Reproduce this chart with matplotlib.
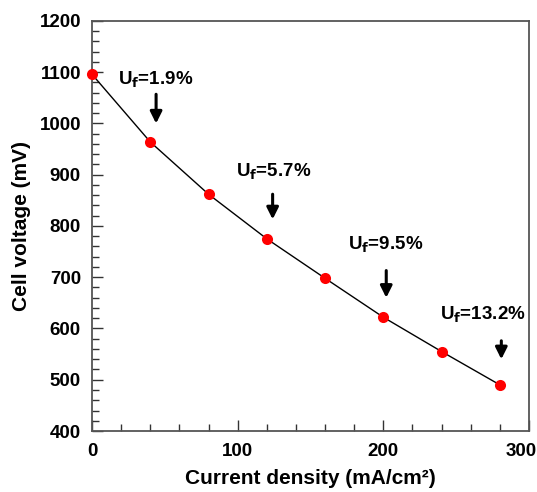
import matplotlib
matplotlib.use("Agg")
import matplotlib.pyplot as plt
from matplotlib.ticker import MultipleLocator
import matplotlib.transforms as mtransforms

plt.rcParams['font.family'] = ['Liberation Sans', 'DejaVu Sans']
plt.rcParams['font.weight'] = 'bold'

current_density = [0, 40, 80, 120, 160, 200, 240, 280]
cell_voltage = [1096, 964, 862, 775, 698, 622, 555, 490]

uf_labels = ["1.9%", "5.7%", "9.5%", "13.2%"]
uf_text_x = [18, 99, 176, 239]
uf_text_y = [1085, 905, 763, 626]
arrow_x = [44, 124, 202, 281]
arrow_top = [1057, 862, 713, 576]
arrow_bottom = [1000, 813, 660, 540]

fig = plt.figure(figsize=(5.37, 4.92), dpi=100)
ax = fig.add_axes([92/537, 1-431/492, (529-92)/537, (431-21)/492])

ax.plot(current_density, cell_voltage, color='black', lw=1.0, zorder=2)
ax.plot(current_density, cell_voltage, 'o', color='#ff0000', ms=8, mec='none', zorder=3, clip_on=False)

for lab, tx, ty, axx, at, ab in zip(uf_labels, uf_text_x, uf_text_y, arrow_x, arrow_top, arrow_bottom):
    ax.text(tx, ty, r"U$_\mathbf{f}$=" + lab, fontsize=13.5, fontweight='bold', va='center', ha='left')
    ax.annotate("", xy=(axx, ab), xytext=(axx, at),
                arrowprops=dict(arrowstyle='-|>,head_width=0.35,head_length=0.7', color='black', lw=2.2,
                                shrinkA=0, shrinkB=0))

ax.set_xlim(0, 300)
ax.set_ylim(400, 1200)
ax.set_xticks([0, 100, 200, 300])
ax.xaxis.set_minor_locator(MultipleLocator(20))
ax.yaxis.set_major_locator(MultipleLocator(100))
ax.yaxis.set_minor_locator(MultipleLocator(20))
ax.tick_params(which='both', direction='in', top=False, right=False, labelsize=13.5, width=1.0, color='#333333')
ax.tick_params(which='major', length=8)
ax.tick_params(axis='y', which='major', pad=8)
ax.tick_params(axis='x', which='major', pad=9)
ax.tick_params(which='minor', length=5)
for lab in ax.get_xticklabels() + ax.get_yticklabels():
    lab.set_fontweight('bold')
for s in ax.spines.values():
    s.set_color('#555555')
    s.set_linewidth(1.3)

ax.set_xlabel("Current density (mA/cm²)", fontsize=15, fontweight='bold', labelpad=6)
ax.set_ylabel("Cell voltage (mV)", fontsize=15, fontweight='bold', labelpad=6)

fig.canvas.draw()
for lab in ax.get_xticklabels():
    if lab.get_text() == '300':
        lab.set_transform(lab.get_transform() + mtransforms.ScaledTranslation(-8/100, 0, fig.dpi_scale_trans))

fig.savefig("out.png", dpi=100)
